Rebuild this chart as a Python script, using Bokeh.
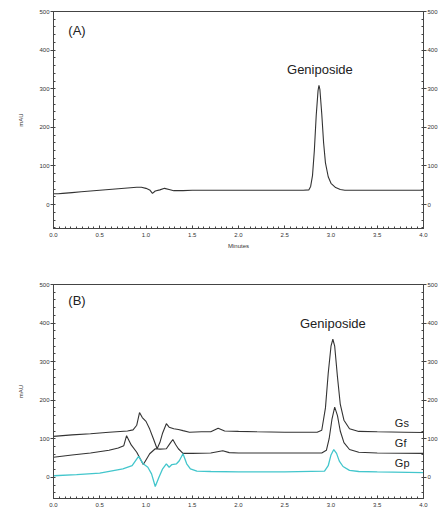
from bokeh.plotting import figure
from bokeh.models import LinearAxis, FixedTicker, Range1d, Label
from bokeh.layouts import column
from bokeh.embed import file_html
from bokeh.resources import INLINE

# ---------------- data ----------------
# Panel (A): standard
xa = [0.0, 0.05, 0.1, 0.2, 0.3, 0.4, 0.5, 0.6, 0.7, 0.8, 0.9, 0.95, 1.0, 1.04, 1.07, 1.1,
      1.15, 1.2, 1.25, 1.3, 1.4, 1.5, 2.0, 2.5, 2.7, 2.76, 2.78, 2.8, 2.82, 2.84, 2.86,
      2.87, 2.88, 2.9, 2.92, 2.94, 2.97, 3.0, 3.05, 3.1, 3.15, 3.5, 4.0]
ya = [28, 28, 29, 31, 33, 35, 37, 39, 41, 43, 45, 45, 42, 38, 29, 35,
      38, 42, 39, 36, 36, 37, 37, 37, 37, 38, 47, 75, 140, 230, 295,
      309, 298, 235, 160, 108, 72, 55, 44, 39, 37, 37, 37]

# Panel (B): Gs
x_gs = [0.0, 0.2, 0.4, 0.6, 0.8, 0.86, 0.9, 0.93, 0.96, 1.0, 1.04, 1.08, 1.12, 1.15, 1.18,
        1.22, 1.25, 1.3, 1.35, 1.4, 1.47, 1.6, 1.7, 1.78, 1.85, 2.0, 2.2, 2.5, 2.85, 2.9,
        2.94, 2.97, 3.0, 3.02, 3.04, 3.07, 3.1, 3.14, 3.2, 3.3, 3.5, 3.8, 4.0]
y_gs = [106, 110, 113, 117, 120, 123, 135, 168, 155, 145, 125, 100, 74, 90, 115,
        139, 130, 126, 124, 121, 117, 118, 118, 127, 120, 119, 118, 117, 117, 122,
        180, 270, 340, 358, 340, 260, 190, 148, 126, 119, 118, 117, 116]

# Panel (B): Gf
x_gf = [0.0, 0.2, 0.4, 0.6, 0.7, 0.76, 0.79, 0.84, 0.9, 0.97, 1.0, 1.04, 1.1, 1.15, 1.22,
        1.26, 1.29, 1.32, 1.35, 1.4, 1.5, 1.7, 1.83, 1.9, 2.0, 2.5, 2.9, 2.95, 2.98, 3.01,
        3.04, 3.07, 3.1, 3.14, 3.2, 3.3, 3.5, 4.0]
y_gf = [52, 58, 63, 70, 76, 82, 108, 84, 65, 33, 45, 61, 74, 73, 74,
        88, 98, 85, 74, 62, 62, 63, 69, 64, 63, 63, 63, 70, 100, 150,
        182, 160, 120, 90, 72, 65, 63, 62]

# Panel (B): Gp
x_gp = [0.0, 0.25, 0.5, 0.75, 0.85, 0.92, 0.97, 1.02, 1.06, 1.1, 1.14, 1.18, 1.22, 1.25,
        1.28, 1.33, 1.36, 1.4, 1.44, 1.48, 1.55, 1.7, 2.0, 2.5, 2.93, 2.97, 3.0, 3.03,
        3.06, 3.09, 3.13, 3.2, 3.3, 3.5, 4.0]
y_gp = [4, 7, 11, 22, 30, 54, 35, 26, 9, -24, 0, 22, 35, 26,
        33, 35, 43, 61, 35, 22, 16, 15, 14, 14, 16, 30, 58, 72,
        62, 42, 28, 18, 15, 14, 12]

x_ticks = [0.0, 0.5, 1.0, 1.5, 2.0, 2.5, 3.0, 3.5, 4.0]
y_ticks = [0, 100, 200, 300, 400, 500]

FONT = "Liberation Sans"
GP_COLOR = "#43c6cc"
LINE_COLOR = "#333333"


def style_axes(p, xlabel):
    xminor = [i / 16 for i in range(0, 65)]
    yminor = list(range(-60, 501, 20))
    p.xaxis.ticker = FixedTicker(ticks=x_ticks, minor_ticks=xminor)
    p.xaxis.major_label_overrides = {t: f"{t:.1f}" for t in x_ticks}
    p.yaxis.ticker = FixedTicker(ticks=y_ticks, minor_ticks=yminor)
    right = LinearAxis(ticker=FixedTicker(ticks=y_ticks, minor_ticks=yminor))
    p.add_layout(right, "right")
    for ax in p.xaxis:
        ax.major_tick_in = 3
        ax.major_tick_out = 0
        ax.minor_tick_in = 2
        ax.minor_tick_out = 0
        ax.major_label_standoff = 4
        ax.axis_label = xlabel
        ax.axis_label_standoff = 3
        ax.axis_label_text_font_size = "6px"
        ax.axis_label_text_font_style = "normal"
    for ax in p.yaxis:
        ax.major_tick_in = 0
        ax.major_tick_out = 3
        ax.minor_tick_in = 2
        ax.minor_tick_out = 0
        ax.major_label_standoff = 1
    for ax in list(p.xaxis) + list(p.yaxis):
        ax.axis_line_color = "#444444"
        ax.major_tick_line_color = "#444444"
        ax.minor_tick_line_color = "#444444"
        ax.major_label_text_font = FONT
        ax.major_label_text_font_size = "6px"
        ax.major_label_text_color = "#333333"
        ax.axis_label_text_font = FONT
        ax.axis_label_text_color = "#333333"
    p.yaxis[0].axis_label = "mAU"
    p.yaxis[0].axis_label_text_font_size = "6px"
    p.yaxis[0].axis_label_text_font_style = "normal"
    p.yaxis[0].axis_label_standoff = 12
    p.grid.visible = False
    p.outline_line_color = "#444444"
    p.outline_line_width = 1


# ---------------- panel A ----------------
p1 = figure(width=440, height=262, x_range=Range1d(0, 4), y_range=Range1d(-62, 500),
            output_backend="svg", toolbar_location=None,
            min_border_left=53, min_border_right=16, min_border_top=11, min_border_bottom=34)
p1.line(xa, ya, line_color=LINE_COLOR, line_width=1.1)
style_axes(p1, "Minutes")
p1.add_layout(Label(x=0.16, y=450, text="(A)", text_font=FONT, text_font_size="13px",
                    text_color="#222222", text_baseline="middle"))
p1.add_layout(Label(x=2.88, y=350, text="Geniposide", text_font=FONT, text_font_size="13px",
                    text_color="#222222", text_align="center", text_baseline="middle"))

# ---------------- panel B ----------------
p2 = figure(width=440, height=251, x_range=Range1d(0, 4), y_range=Range1d(-55, 500),
            output_backend="svg", toolbar_location=None,
            min_border_left=53, min_border_right=16, min_border_top=22, min_border_bottom=15)
p2.line(x_gs, y_gs, line_color=LINE_COLOR, line_width=1.1)
p2.line(x_gf, y_gf, line_color=LINE_COLOR, line_width=1.1)
p2.line(x_gp, y_gp, line_color=GP_COLOR, line_width=1.3)
style_axes(p2, "")
p2.add_layout(Label(x=0.16, y=458, text="(B)", text_font=FONT, text_font_size="13px",
                    text_color="#222222", text_baseline="middle"))
p2.add_layout(Label(x=3.02, y=400, text="Geniposide", text_font=FONT, text_font_size="13px",
                    text_color="#222222", text_align="center", text_baseline="middle"))
for lbl, yy in (("Gs", 142), ("Gf", 88), ("Gp", 36)):
    p2.add_layout(Label(x=3.69, y=yy, text=lbl, text_font=FONT, text_font_size="11px",
                        text_color="#222222", text_baseline="middle"))

layout = column(p1, p2, spacing=0)
open("out.html", "w").write(file_html(layout, INLINE))
